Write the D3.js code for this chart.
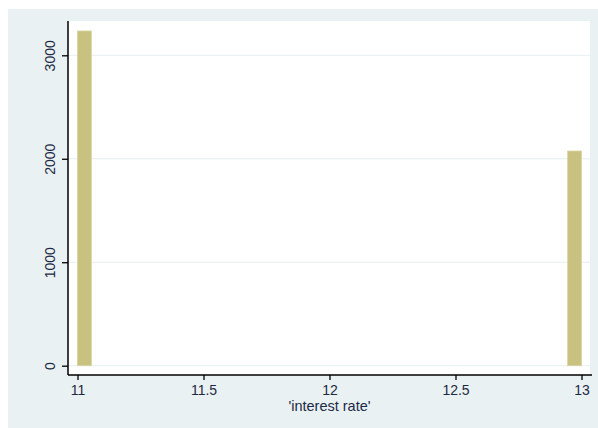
<!DOCTYPE html>
<html>
<head>
<meta charset="utf-8">
<script src="https://cdn.jsdelivr.net/npm/d3@7"></script>
<style>
  body { margin: 0; background: #ffffff; }
  svg { display: block; font-family: "Liberation Sans", Arial, sans-serif; }
</style>
</head>
<body>
<svg id="chart" width="598" height="428"></svg>
<script>
// Histogram of interest rate: left edge of each bin and its frequency
const binLeft = [11, 12.945];
const binWidth = 0.055;
const frequency = [3235, 2075];

const xTicks = [11, 11.5, 12, 12.5, 13];
const xTickLabels = ["11", "11.5", "12", "12.5", "13"];
const yTicks = [0, 1000, 2000, 3000];
const xTitle = "'interest rate'";

const svg = d3.select("#chart");

// outer graph region
svg.append("rect")
  .attr("x", 8).attr("y", 9).attr("width", 590).attr("height", 419)
  .attr("fill", "#eaf1f3");

// plot region
const plot = { left: 68, right: 590, top: 21, bottom: 375 };
svg.append("rect")
  .attr("x", plot.left).attr("y", plot.top)
  .attr("width", plot.right - plot.left).attr("height", plot.bottom - plot.top)
  .attr("fill", "#ffffff");

const x = d3.scaleLinear().domain([11, 13]).range([77.5, 581.5]);
const y = d3.scaleLinear().domain([0, 3000]).range([365.7, 55.3]);

// horizontal grid lines
svg.append("g").selectAll("line")
  .data(yTicks)
  .join("line")
  .attr("x1", plot.left).attr("x2", plot.right)
  .attr("y1", d => y(d)).attr("y2", d => y(d))
  .attr("stroke", "#e6eff2").attr("stroke-width", 1);

// bars
svg.append("g").selectAll("rect")
  .data(binLeft.map((l, i) => ({ l, v: frequency[i] })))
  .join("rect")
  .attr("x", d => x(d.l))
  .attr("width", d => x(d.l + binWidth) - x(d.l))
  .attr("y", d => y(d.v))
  .attr("height", d => y(0) - y(d.v))
  .attr("fill", "#c9c17f")
  .attr("stroke", "#d9d3a3")
  .attr("stroke-width", 0.8);

// y axis
const yAxis = svg.append("g")
  .attr("transform", `translate(${plot.left},0)`)
  .call(d3.axisLeft(y).tickValues(yTicks).tickSize(6).tickPadding(11).tickFormat(d3.format("d")));
yAxis.select(".domain").attr("d", `M0,${plot.top}V${plot.bottom}`).attr("stroke", "#000").attr("stroke-width", 1.5);
yAxis.selectAll(".tick line").attr("stroke", "#000").attr("stroke-width", 1.3);
yAxis.selectAll(".tick text")
  .attr("fill", "#1c2a44")
  .attr("font-size", 14)
  .attr("x", 0).attr("dy", 0)
  .attr("text-anchor", "middle")
  .attr("transform", "translate(-13,0) rotate(-90)");

// x axis
const xAxis = svg.append("g")
  .attr("transform", `translate(0,${plot.bottom})`)
  .call(d3.axisBottom(x).tickValues(xTicks).tickSize(5).tickPadding(5)
    .tickFormat((d, i) => xTickLabels[i]));
xAxis.select(".domain").attr("d", `M${plot.left},0H${plot.right + 2}`).attr("stroke", "#000").attr("stroke-width", 1.5);
xAxis.selectAll(".tick line").attr("stroke", "#000").attr("stroke-width", 1.3);
xAxis.selectAll(".tick text")
  .attr("fill", "#1c2a44")
  .attr("font-size", 14);

// x axis title
svg.append("text")
  .attr("x", x(12)).attr("y", 410.5)
  .attr("text-anchor", "middle")
  .attr("font-size", 14.5)
  .attr("fill", "#1c2a44")
  .text(xTitle);
</script>
</body>
</html>
